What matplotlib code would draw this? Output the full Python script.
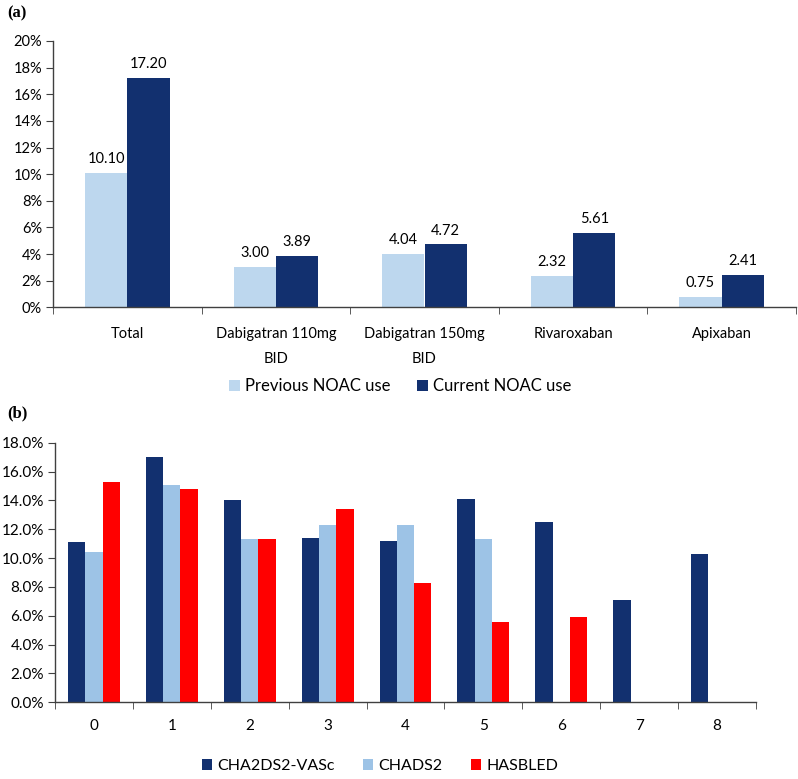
import numpy as np
import matplotlib
matplotlib.use('Agg')
import matplotlib.pyplot as plt
from matplotlib.ticker import FixedLocator, PercentFormatter

plt.rcParams['font.family'] = ['Lato', 'DejaVu Sans']

# Panel (a) data
drugs = ['Total', 'Dabigatran 110mg\nBID', 'Dabigatran 150mg\nBID', 'Rivaroxaban', 'Apixaban']
previous_use = [10.10, 3.00, 4.04, 2.32, 0.75]
current_use = [17.20, 3.89, 4.72, 5.61, 2.41]

# Panel (b) data
scores = ['0', '1', '2', '3', '4', '5', '6', '7', '8']
cha2ds2_vasc = [11.1, 17.0, 14.0, 11.4, 11.2, 14.1, 12.5, 7.1, 10.3]
chads2 = [10.4, 15.1, 11.3, 12.3, 12.3, 11.3, np.nan, np.nan, np.nan]
hasbled = [15.3, 14.8, 11.3, 13.4, 8.3, 5.6, 5.9, np.nan, np.nan]

light_a = '#BDD7EE'
dark = '#12306F'
light_b = '#9DC3E6'
red = '#FF0000'
axis_col = '#404040'

fig = plt.figure(figsize=(7.98, 7.79), dpi=100)

def style_axes(ax, n, fs):
    ax.spines['top'].set_visible(False)
    ax.spines['right'].set_visible(False)
    for s in ['left', 'bottom']:
        ax.spines[s].set_color(axis_col)
        ax.spines[s].set_linewidth(1.0)
    ax.set_xlim(-0.5, n - 0.5)
    ax.set_xticks(range(n))
    ax.xaxis.set_minor_locator(FixedLocator(np.arange(-0.5, n, 1.0)))
    ax.tick_params(axis='x', which='major', length=0)
    ax.tick_params(axis='x', which='minor', length=5, color=axis_col, direction='out')
    ax.tick_params(axis='y', length=5, color=axis_col, direction='out', labelsize=fs, pad=3)

# ---- panel (a)
ax1 = fig.add_axes([53 / 798, 1 - 307.3 / 779, (796 - 53) / 798, (307.3 - 41) / 779])
x = np.arange(len(drugs))
w = 0.285
b1 = ax1.bar(x - w / 2, previous_use, w, color=light_a, label='Previous NOAC use')
b2 = ax1.bar(x + w / 2, current_use, w, color=dark, label='Current NOAC use')
ax1.bar_label(b1, fmt='%.2f', padding=5, fontsize=10.5)
ax1.bar_label(b2, fmt='%.2f', padding=5, fontsize=10.5)
style_axes(ax1, len(drugs), 10.5)
ax1.set_ylim(0, 20)
ax1.set_yticks(np.arange(0, 21, 2))
ax1.yaxis.set_major_formatter(PercentFormatter(decimals=0))
ax1.set_xticklabels(drugs, fontsize=10.5, linespacing=2.0)
ax1.tick_params(axis='x', which='major', pad=14)
fig.legend(handles=[b1, b2], loc='center', bbox_to_anchor=(0.502, 1 - 386 / 779), ncol=2,
           frameon=False, fontsize=12, handlelength=0.65, handleheight=0.65,
           handletextpad=0.3, columnspacing=1.6)
fig.text(7 / 798, 1 - 13 / 779, '(a)', fontsize=12, fontweight='bold',
         family='Liberation Serif', va='center')

# ---- panel (b)
ax2 = fig.add_axes([55 / 798, 1 - 702.3 / 779, (756 - 55) / 798, (702.3 - 442.7) / 779])
x2 = np.arange(len(scores))
w2 = 0.222
c1 = ax2.bar(x2 - w2, cha2ds2_vasc, w2, color=dark, label='CHA2DS2-VASc')
c2 = ax2.bar(x2, chads2, w2, color=light_b, label='CHADS2')
c3 = ax2.bar(x2 + w2, hasbled, w2, color=red, label='HASBLED')
style_axes(ax2, len(scores), 11)
ax2.set_ylim(0, 18)
ax2.set_yticks(np.arange(0, 18.1, 2))
ax2.yaxis.set_major_formatter(PercentFormatter(decimals=1))
ax2.set_xticklabels(scores, fontsize=11)
ax2.tick_params(axis='x', which='major', pad=12)
fig.legend(handles=[c1, c2, c3], loc='center', bbox_to_anchor=(0.476, 1 - 766 / 779), ncol=3,
           frameon=False, fontsize=11.5, handlelength=0.65, handleheight=0.65,
           handletextpad=0.3, columnspacing=1.8)
fig.text(7 / 798, 1 - 413 / 779, '(b)', fontsize=12, fontweight='bold',
         family='Liberation Serif', va='center')

fig.savefig('out.png', dpi=100)
